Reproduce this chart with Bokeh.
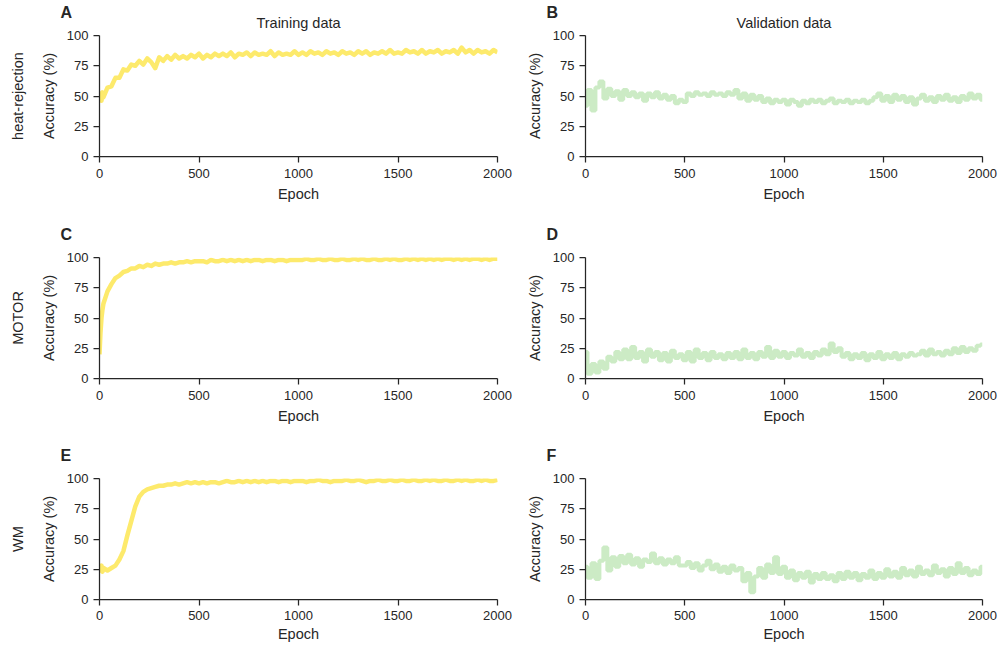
from bokeh.plotting import figure
from bokeh.layouts import gridplot
from bokeh.models import Range1d, FixedTicker, LinearAxis
from bokeh.embed import file_html
from bokeh.resources import INLINE

# ---------------- data ----------------
epochs_train = [0, 5, 10, 15] + list(range(20, 2001, 20))
epochs_val = list(range(0, 2001, 20))

heat_train = [45, 52, 46, 53,
              49, 57, 58, 65, 65, 72, 71, 76, 75, 79,
              76, 81, 78, 73, 82, 79, 83, 80, 84, 81,
              83, 81, 84, 82, 85, 81, 84, 82, 85, 83,
              85, 83, 86, 82, 85, 84, 86, 83, 86, 84,
              85, 84, 87, 83, 86, 84, 85, 84, 87, 84,
              86, 84, 87, 85, 86, 84, 87, 85, 86, 84,
              87, 85, 86, 84, 87, 85, 87, 84, 86, 85,
              87, 85, 88, 85, 86, 85, 88, 86, 87, 85,
              88, 85, 87, 86, 88, 85, 87, 86, 88, 85,
              90, 86, 88, 85, 88, 86, 87, 85, 88, 86]

motor_train = [20, 38, 50, 57,
               62, 72, 78, 83, 85, 88, 89, 91, 91, 93,
               92, 94, 93, 95, 94, 95, 95, 96, 95, 96,
               96, 97, 96, 97, 97, 97, 96, 98, 97, 97,
               98, 97, 98, 97, 98, 97, 98, 97, 98, 98,
               97, 98, 98, 97, 98, 98, 97, 98, 98, 98,
               98, 99, 98, 98, 99, 98, 98, 99, 98, 98,
               99, 98, 98, 99, 98, 99, 98, 98, 99, 98,
               98, 99, 98, 99, 98, 98, 99, 98, 99, 98,
               99, 98, 99, 98, 99, 98, 99, 99, 98, 99,
               98, 99, 98, 99, 99, 98, 99, 98, 99, 99]

wm_train = [27, 24, 28, 23,
            26, 24, 26, 28, 33, 40, 53, 65, 77, 85,
            89, 91, 92, 93, 94, 94, 95, 95, 96, 95,
            96, 97, 96, 97, 96, 97, 96, 97, 97, 96,
            97, 98, 97, 97, 98, 97, 98, 97, 98, 97,
            98, 97, 98, 98, 97, 98, 98, 97, 98, 98,
            98, 97, 98, 98, 99, 98, 98, 97, 98, 98,
            98, 99, 98, 98, 99, 98, 97, 98, 98, 99,
            98, 98, 99, 98, 98, 99, 98, 98, 99, 98,
            98, 99, 98, 99, 98, 98, 99, 98, 98, 99,
            98, 99, 98, 98, 99, 98, 99, 98, 98, 99]

heat_val = [42, 55, 38, 57, 62, 48, 56, 50, 54, 47,
            55, 50, 53, 49, 52, 46, 52, 49, 53, 48,
            51, 47, 50, 44, 47, 45, 52, 50, 53, 51,
            52, 50, 53, 51, 52, 50, 53, 51, 55, 48,
            52, 46, 51, 47, 50, 45, 48, 44, 47, 45,
            47, 43, 47, 45, 42, 46, 44, 47, 45, 47,
            44, 46, 48, 44, 46, 45, 47, 44, 46, 45,
            47, 44, 46, 49, 52, 46, 50, 45, 51, 47,
            50, 45, 49, 43, 48, 51, 46, 49, 45, 50,
            47, 51, 46, 49, 45, 50, 47, 52, 48, 51,
            47]

motor_val = [22, 4, 12, 5, 14, 8, 18, 14, 22, 16,
             24, 16, 26, 17, 22, 14, 24, 18, 22, 15,
             21, 14, 23, 17, 20, 15, 22, 14, 24, 17,
             21, 15, 22, 17, 20, 16, 21, 17, 22, 16,
             24, 17, 21, 16, 22, 18, 26, 17, 23, 18,
             22, 17, 21, 19, 24, 18, 21, 17, 22, 19,
             24, 20, 29, 22, 25, 18, 21, 16, 20, 17,
             21, 15, 20, 17, 22, 16, 20, 17, 21, 16,
             20, 18, 21, 19, 20, 23, 19, 24, 20, 22,
             19, 23, 20, 25, 21, 26, 22, 25, 23, 27,
             28]

wm_val = [27, 18, 30, 17, 32, 43, 24, 35, 27, 36,
          30, 37, 29, 34, 27, 33, 31, 38, 30, 34,
          29, 33, 30, 35, 28, 28, 31, 26, 30, 24,
          28, 32, 25, 29, 23, 27, 22, 28, 24, 26,
          15, 22, 6, 19, 26, 18, 29, 22, 35, 21,
          27, 18, 24, 16, 22, 18, 23, 14, 21, 17,
          22, 17, 20, 15, 22, 17, 23, 18, 22, 16,
          21, 18, 24, 17, 22, 18, 25, 19, 23, 18,
          26, 20, 24, 19, 27, 21, 24, 20, 28, 22,
          25, 19, 26, 21, 30, 22, 26, 20, 24, 21,
          27]

row_labels = ["heat-rejection", "MOTOR", "WM"]
col_titles = ["Training data", "Validation data"]
letters = ["A", "B", "C", "D", "E", "F"]
x_ticks = [0, 500, 1000, 1500, 2000]
y_ticks = [0, 25, 50, 75, 100]

# ---------------- styling ----------------
FONT = "Liberation Sans"
TXT = "#262626"
TRAIN_COLOR = "#fdea6c"
VAL_COLOR = "#ccebc5"

col_w = [520, 480]
col_bl = [99, 65]
col_br = [23, 18]
row_h = [215, 221, 211]
row_bt = [35, 42, 42]
row_bb = [59, 58, 48]


def style_text_axis(ax):
    ax.axis_label_text_font = FONT
    ax.axis_label_text_font_size = "14.5px"
    ax.axis_label_text_font_style = "normal"
    ax.axis_label_text_color = TXT


def blank_axis(label, standoff):
    ax = LinearAxis(ticker=FixedTicker(ticks=[]), axis_label=label)
    ax.axis_line_color = None
    ax.major_tick_line_color = None
    ax.minor_tick_line_color = None
    ax.major_tick_out = 0
    ax.major_tick_in = 0
    ax.major_label_text_font_size = "0px"
    ax.major_label_standoff = 0
    ax.axis_label_standoff = standoff
    style_text_axis(ax)
    return ax


def make_panel(r, c, xs, ys, kind):
    p = figure(width=col_w[c], height=row_h[r],
               x_range=Range1d(0, 2000), y_range=Range1d(0, 100),
               output_backend="svg", toolbar_location=None,
               min_border_left=col_bl[c], min_border_right=col_br[c],
               min_border_top=row_bt[r], min_border_bottom=row_bb[r])
    p.outline_line_color = None
    p.grid.visible = False

    if kind == "train":
        p.line(xs, ys, line_color=TRAIN_COLOR, line_width=4.5, line_join="round")
    else:
        p.step(xs, ys, line_color=VAL_COLOR, line_width=4, mode="center")

    for ax in (p.xaxis[0], p.yaxis[0]):
        ax.axis_line_color = TXT
        ax.axis_line_width = 1.25
        ax.major_tick_line_color = TXT
        ax.major_tick_line_width = 1.25
        ax.major_tick_out = 6
        ax.major_tick_in = 0
        ax.minor_tick_line_color = None
        ax.major_label_text_font = FONT
        ax.major_label_text_font_size = "13px"
        ax.major_label_text_color = TXT
        style_text_axis(ax)

    p.xaxis.ticker = FixedTicker(ticks=x_ticks)
    p.yaxis.ticker = FixedTicker(ticks=y_ticks)
    p.xaxis.axis_label = "Epoch"
    p.yaxis.axis_label = "Accuracy (%)"
    p.yaxis.major_label_standoff = 5
    p.yaxis.axis_label_standoff = 7
    if r == 2:
        p.xaxis.major_label_standoff = 5
        p.xaxis.axis_label_standoff = 3
    else:
        p.xaxis.major_label_standoff = 6
        p.xaxis.axis_label_standoff = 5

    # column title on the first row; an empty spacer strip on the others
    p.add_layout(blank_axis(col_titles[c] if r == 0 else " ", 5), "above")

    # row label (first column only)
    if c == 0:
        p.add_layout(blank_axis(row_labels[r], 12), "left")

    # panel letter
    p.title.text = letters[r * 2 + c]
    p.title.align = "left"
    p.title.offset = -39
    p.title.text_font = FONT
    p.title.text_font_size = "16px"
    p.title.text_font_style = "bold"
    p.title.text_color = TXT
    p.title.standoff = -18
    return p


p1 = make_panel(0, 0, epochs_train, heat_train, "train")
p2 = make_panel(0, 1, epochs_val, heat_val, "val")
p3 = make_panel(1, 0, epochs_train, motor_train, "train")
p4 = make_panel(1, 1, epochs_val, motor_val, "val")
p5 = make_panel(2, 0, epochs_train, wm_train, "train")
p6 = make_panel(2, 1, epochs_val, wm_val, "val")

grid = gridplot([[p1, p2], [p3, p4], [p5, p6]], toolbar_location=None)

open("out.html", "w").write(file_html(grid, INLINE))
